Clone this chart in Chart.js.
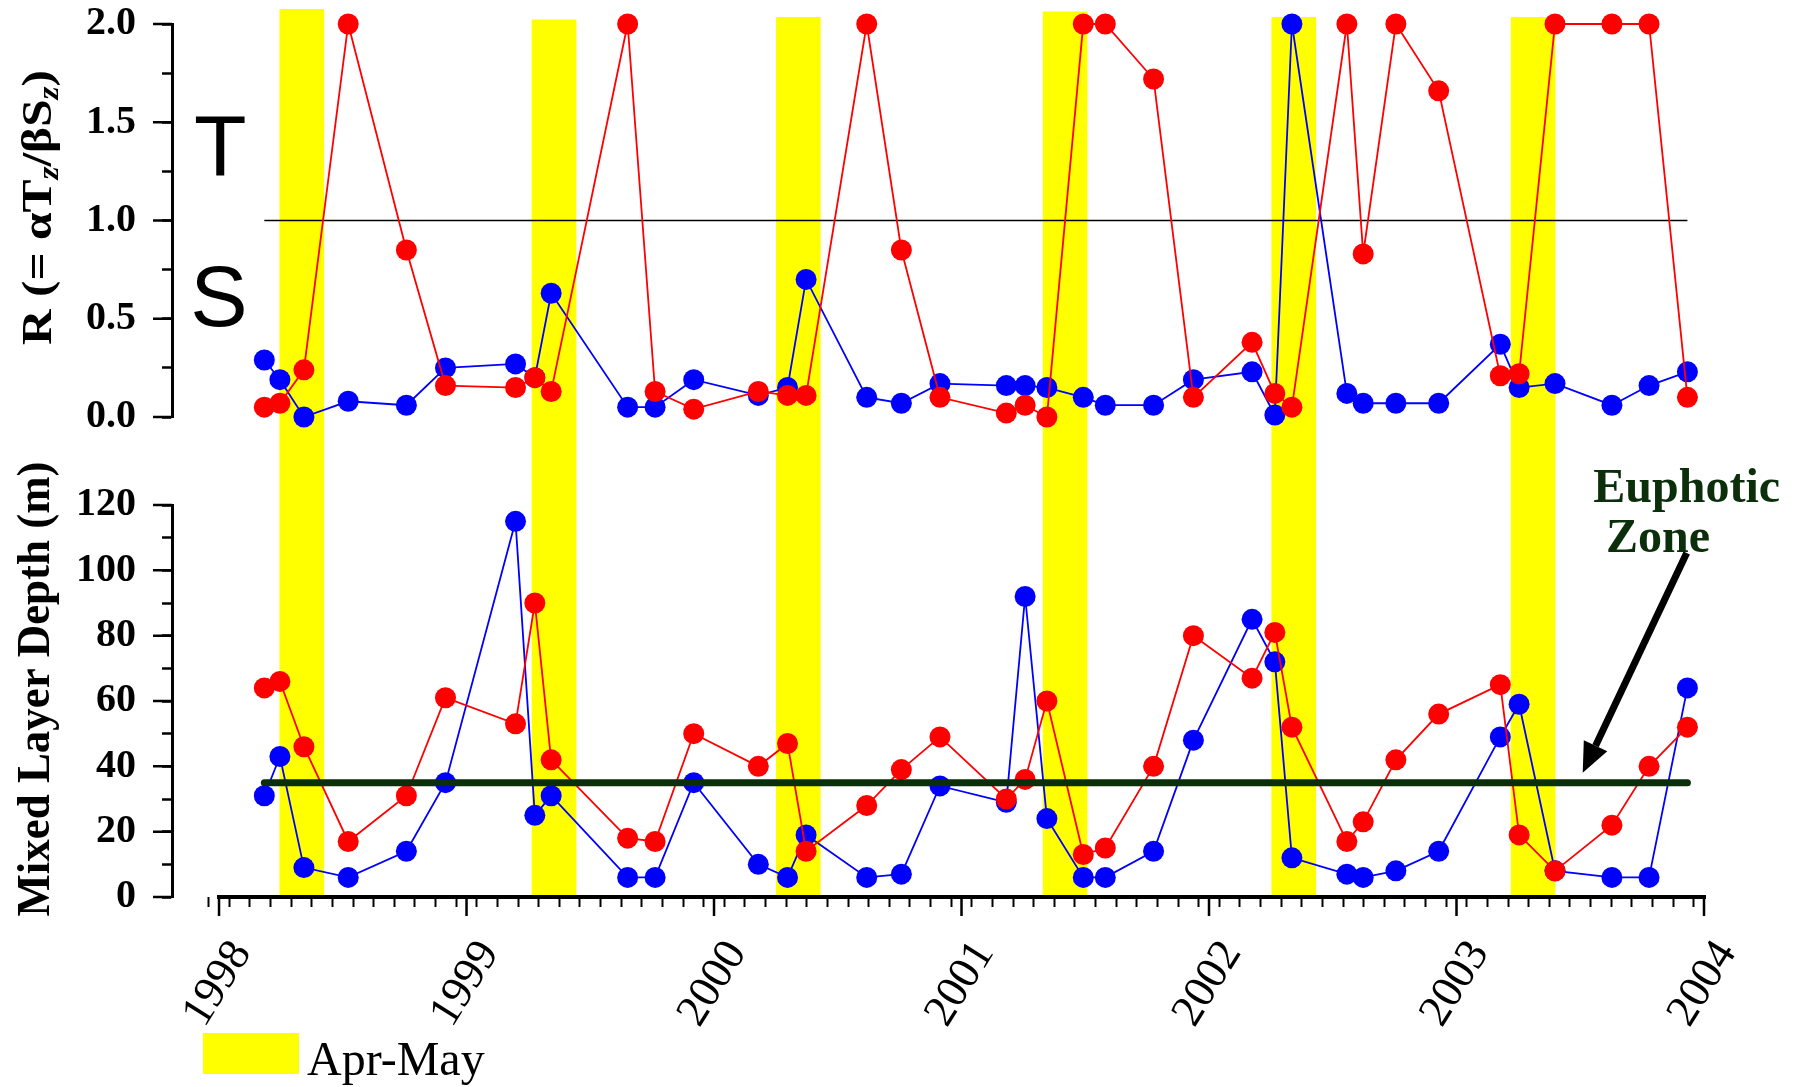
<!DOCTYPE html>
<html>
<head>
<meta charset="utf-8">
<script src="https://cdn.jsdelivr.net/npm/chart.js@4.4.1/dist/chart.umd.min.js"></script>
<style>
html,body{margin:0;padding:0;background:#ffffff;overflow:hidden;}
#c{display:block;}
</style>
</head>
<body>
<canvas id="c" width="1805" height="1087"></canvas>
<script>
// ---------------- data ----------------
const sampleDates = [1998.183, 1998.246, 1998.343, 1998.522, 1998.757, 1998.915, 1999.198, 1999.276, 1999.342, 1999.651,
  1999.762, 1999.918, 2000.179, 2000.297, 2000.372, 2000.617, 2000.757, 2000.913, 2001.181, 2001.257,
  2001.345, 2001.492, 2001.581, 2001.776, 2001.937, 2002.174, 2002.266, 2002.335, 2002.557, 2002.623,
  2002.755, 2002.928, 2003.177, 2003.253, 2003.398, 2003.628, 2003.778, 2003.933];
const rRed = [0.05, 0.07, 0.24, 2.0, 0.85, 0.16, 0.15, 0.20, 0.13, 2.0,
  0.13, 0.04, 0.13, 0.11, 0.11, 2.0, 0.85, 0.10, 0.02, 0.06,
  0.00, 2.0, 2.0, 1.72, 0.10, 0.38, 0.12, 0.05, 2.0, 0.83,
  2.0, 1.66, 0.21, 0.22, 2.0, 2.0, 2.0, 0.10];
const rBlue = [0.29, 0.19, 0.00, 0.08, 0.06, 0.25, 0.27, 0.20, 0.63, 0.05,
  0.05, 0.19, 0.11, 0.15, 0.70, 0.10, 0.07, 0.17, 0.16, 0.16,
  0.15, 0.10, 0.06, 0.06, 0.19, 0.23, 0.01, 2.0, 0.12, 0.07,
  0.07, 0.07, 0.37, 0.15, 0.17, 0.06, 0.16, 0.23];
const mldRed = [64, 66, 46, 17, 31, 61, 53, 90, 42, 18,
  17, 50, 40, 47, 14, 28, 39, 49, 30, 36,
  60, 13, 15, 40, 80, 67, 81, 52, 17, 23,
  42, 56, 65, 19, 8, 22, 40, 52];
const mldBlue = [31, 43, 9, 6, 14, 35, 115, 25, 31, 6,
  6, 35, 10, 6, 19, 6, 7, 34, 29, 92,
  24, 6, 6, 14, 48, 85, 72, 12, 7, 6,
  8, 14, 49, 59, 8, 6, 6, 64];
// Apr-May shading (decimal years) and the height each band reaches (in metres of the MLD scale)
const bandStart = [1998.246, 1999.265, 2000.252, 2001.330, 2002.254, 2003.221];
const bandEnd   = [1998.423, 1999.442, 2000.429, 2001.507, 2002.431, 2003.398];
const bandTop   = [271.7, 268.5, 269.3, 271.0, 269.3, 269.3];
// ticks
const yearTicks = [1998, 1999, 2000, 2001, 2002, 2003, 2004];
const monthTicks = Array.from({length: 73}, (_, k) => 1998 + k / 12);
const rMajorTicks = [0, 0.5, 1.0, 1.5, 2.0];
const mldMajorTicks = [0, 20, 40, 60, 80, 100, 120];
// reference lines
const rThreshold = 1.0;
const euphoticDepth = 35;
// annotations (data coordinates)
const tLabel = {text: 'T', x: 1998.005, y: 1.232};
const sLabel = {text: 'S', x: 1998.0, y: 0.462};
const zoneLabels = [{text: 'Euphotic', x: 2003.93, y: 121.0}, {text: 'Zone', x: 2003.814, y: 105.7}];
const arrowFrom = {x: 2003.93, y: 105.3};
const arrowTo = {x: 2003.51, y: 38.0};

// ---------------- styling ----------------
const GREEN = '#0b2e0b';
const SERIF = '"Liberation Serif", "Times New Roman", serif';
const RED = '#ff0000';
const BLUE = '#0000ff';
const YELLOW = '#ffff00';

function pts(xs, ys) { return xs.map((x, i) => ({x: x, y: ys[i]})); }

function seriesDs(label, data, axis, color, order) {
  return {
    type: 'line', label: label, data: data, xAxisID: 'x', yAxisID: axis,
    borderColor: color, backgroundColor: color,
    pointBackgroundColor: color, pointBorderColor: color, pointBorderWidth: 0,
    pointRadius: 10.5, pointHoverRadius: 10.5, borderWidth: 1.8, tension: 0,
    fill: false, clip: false, order: order
  };
}

function drawRich(ctx, parts, cx, cy, targetLen) {
  let total = 0;
  parts.forEach(p => { ctx.font = p.font; p.w = ctx.measureText(p.text).width; total += p.w; });
  const s = targetLen / total;
  ctx.save();
  ctx.translate(cx, cy);
  ctx.rotate(-Math.PI / 2);
  ctx.scale(s, 1);
  ctx.textAlign = 'left';
  ctx.textBaseline = 'alphabetic';
  let x = -total / 2;
  parts.forEach(p => { ctx.font = p.font; ctx.fillText(p.text, x, p.dy); x += p.w; });
  ctx.restore();
}

const decor = {
  id: 'decor',
  afterDraw(chart) {
    const ctx = chart.ctx;
    const xs = chart.scales.x, yt = chart.scales.yTop, yb = chart.scales.yBot;
    const area = chart.chartArea;
    ctx.save();
    // long (major) tick marks
    ctx.strokeStyle = '#000';
    ctx.lineWidth = 2.5;
    ctx.beginPath();
    yearTicks.forEach(v => { const p = xs.getPixelForValue(v); ctx.moveTo(p, area.bottom); ctx.lineTo(p, area.bottom + 19); });
    rMajorTicks.forEach(v => { const p = yt.getPixelForValue(v); ctx.moveTo(area.left - 19, p); ctx.lineTo(area.left, p); });
    mldMajorTicks.forEach(v => { const p = yb.getPixelForValue(v); ctx.moveTo(area.left - 19, p); ctx.lineTo(area.left, p); });
    ctx.stroke();

    // rotated year labels
    ctx.fillStyle = '#000';
    ctx.font = '45px ' + SERIF;
    ctx.textAlign = 'center';
    ctx.textBaseline = 'middle';
    yearTicks.forEach(v => {
      const p = xs.getPixelForValue(v);
      ctx.save();
      ctx.translate(p - 1, area.bottom + 87);
      ctx.rotate(-58 * Math.PI / 180);
      ctx.fillText(String(v), 0, 0);
      ctx.restore();
    });

    // axis titles
    drawRich(ctx, [
      {text: 'R (= \u03b1T', font: 'bold 43px ' + SERIF, dy: 0},
      {text: 'z', font: 'italic bold 29px ' + SERIF, dy: 7},
      {text: '/\u03b2S', font: 'bold 43px ' + SERIF, dy: 0},
      {text: 'z', font: 'italic bold 29px ' + SERIF, dy: 7},
      {text: ')', font: 'bold 43px ' + SERIF, dy: 0}
    ], 51, (yt.top + yt.bottom) / 2 - 13, 275);
    drawRich(ctx, [{text: 'Mixed Layer Depth (m)', font: 'bold 47px ' + SERIF, dy: 0}],
      49, (yb.top + yb.bottom) / 2 - 12, 455);

    // T / S markers
    ctx.font = '86px "Liberation Sans", Arial, sans-serif';
    ctx.textAlign = 'center';
    ctx.textBaseline = 'alphabetic';
    [tLabel, sLabel].forEach(l => ctx.fillText(l.text, xs.getPixelForValue(l.x), yt.getPixelForValue(l.y)));

    // Euphotic Zone label + arrow
    ctx.fillStyle = GREEN;
    ctx.font = 'bold 48px ' + SERIF;
    zoneLabels.forEach(l => ctx.fillText(l.text, xs.getPixelForValue(l.x), yb.getPixelForValue(l.y)));
    const x0 = xs.getPixelForValue(arrowFrom.x), y0 = yb.getPixelForValue(arrowFrom.y);
    const x1 = xs.getPixelForValue(arrowTo.x), y1 = yb.getPixelForValue(arrowTo.y);
    const ang = Math.atan2(y1 - y0, x1 - x0);
    const headLen = 30, headHalf = 13;
    const bx = x1 - headLen * Math.cos(ang), by = y1 - headLen * Math.sin(ang);
    ctx.strokeStyle = '#000';
    ctx.fillStyle = '#000';
    ctx.lineWidth = 7;
    ctx.lineCap = 'butt';
    ctx.beginPath(); ctx.moveTo(x0, y0); ctx.lineTo(bx, by); ctx.stroke();
    ctx.beginPath();
    ctx.moveTo(x1, y1);
    ctx.lineTo(bx + headHalf * Math.sin(ang), by - headHalf * Math.cos(ang));
    ctx.lineTo(bx - headHalf * Math.sin(ang), by + headHalf * Math.cos(ang));
    ctx.closePath(); ctx.fill();

    // legend
    ctx.fillStyle = YELLOW;
    ctx.fillRect(203, 1033, 96, 41);
    ctx.fillStyle = '#000';
    ctx.font = '48px ' + SERIF;
    ctx.textAlign = 'left';
    ctx.textBaseline = 'alphabetic';
    ctx.fillText('Apr-May', 307, 1075);
    ctx.restore();
  }
};

const tickFont = {family: SERIF, size: 40, weight: 'bold'};
function fixV(s) { s.width = 140; s.paddingTop = 0; s.paddingBottom = 0; }

const chart = new Chart(document.getElementById('c'), {
  type: 'line',
  data: {
    datasets: [
      {type: 'line', label: 'x axis', data: [{x: yearTicks[0], y: 0}, {x: yearTicks[yearTicks.length - 1], y: 0}],
        xAxisID: 'x', yAxisID: 'yBot', borderColor: '#000', borderWidth: 4, borderCapStyle: 'square',
        pointRadius: 0, clip: false, order: 0},
      {type: 'line', label: 'Euphotic zone', data: [{x: sampleDates[0], y: euphoticDepth}, {x: sampleDates[sampleDates.length - 1], y: euphoticDepth}],
        xAxisID: 'x', yAxisID: 'yBot', borderColor: GREEN, borderWidth: 7, borderCapStyle: 'round',
        pointRadius: 0, clip: false, order: 1},
      seriesDs('R red', pts(sampleDates, rRed), 'yTop', RED, 2),
      seriesDs('MLD red', pts(sampleDates, mldRed), 'yBot', RED, 2),
      seriesDs('R blue', pts(sampleDates, rBlue), 'yTop', BLUE, 3),
      seriesDs('MLD blue', pts(sampleDates, mldBlue), 'yBot', BLUE, 3),
      {type: 'line', label: 'R = 1', data: [{x: sampleDates[0], y: rThreshold}, {x: sampleDates[sampleDates.length - 1], y: rThreshold}],
        xAxisID: 'x', yAxisID: 'yTop', borderColor: '#000', borderWidth: 1.5, pointRadius: 0, clip: false, order: 4},
      {type: 'bar', label: 'Apr-May', data: bandStart.map((s, i) => ({x: (s + bandEnd[i]) / 2, y: [0, bandTop[i]]})),
        xAxisID: 'x', yAxisID: 'yBot', backgroundColor: YELLOW, borderWidth: 0, barThickness: 44, clip: false, order: 10}
    ]
  },
  options: {
    responsive: false,
    animation: false,
    events: [],
    devicePixelRatio: 1,
    layout: {padding: {left: 32, right: 101, top: 24, bottom: 0}},
    plugins: {legend: {display: false}, tooltip: {enabled: false}, title: {display: false}},
    scales: {
      x: {
        type: 'linear', position: 'bottom', min: 1997.81, max: 2004, offset: false,
        afterBuildTicks: s => { s.ticks = monthTicks.map(v => ({value: v})); },
        ticks: {display: false, autoSkip: false},
        grid: {drawOnChartArea: false, drawTicks: true, tickLength: 10, tickWidth: 2, tickColor: '#000'},
        border: {display: false},
        afterFit: s => { s.height = 190; s.paddingLeft = 0; s.paddingRight = 0; }
      },
      yTop: {
        type: 'linear', position: 'left', stack: 'panels', stackWeight: 393, weight: 3,
        min: 0, max: 2,
        ticks: {stepSize: 0.25, autoSkip: false, padding: 26, color: '#000', font: tickFont,
          callback: v => rMajorTicks.some(t => Math.abs(t - v) < 1e-9) ? Number(v).toFixed(1) : ''},
        grid: {drawOnChartArea: false, tickLength: 10, tickWidth: 2.5, tickColor: '#000'},
        border: {display: true, width: 3, color: '#000'},
        afterFit: fixV
      },
      yGap: {
        type: 'linear', position: 'left', stack: 'panels', stackWeight: 88, weight: 2, display: false,
        min: 0, max: 1
      },
      yBot: {
        type: 'linear', position: 'left', stack: 'panels', stackWeight: 392, weight: 1,
        min: 0, max: 120,
        ticks: {stepSize: 10, autoSkip: false, padding: 26, color: '#000', font: tickFont,
          callback: v => mldMajorTicks.includes(v) ? String(v) : ''},
        grid: {drawOnChartArea: false, tickLength: 10, tickWidth: 2.5, tickColor: '#000'},
        border: {display: true, width: 3, color: '#000'},
        afterFit: fixV
      }
    }
  },
  plugins: [decor]
});
</script>
</body>
</html>
